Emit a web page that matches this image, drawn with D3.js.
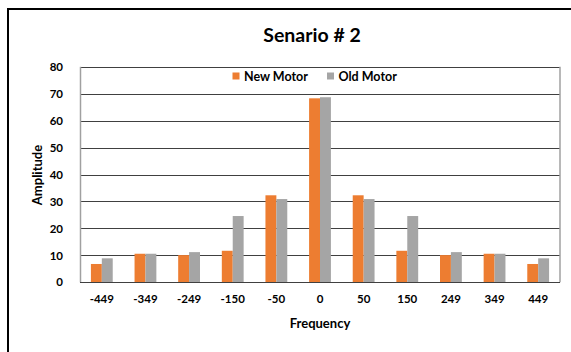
<!DOCTYPE html>
<html><head><meta charset="utf-8">
<script src="https://cdn.jsdelivr.net/npm/d3@7"></script>
<style>body{margin:0;background:#fff}svg{display:block}text{font-family:Lato,"Open Sans",sans-serif;font-weight:bold;fill:#000}</style>
</head><body>
<script>
const categories = ["-449","-349","-249","-150","-50","0","50","150","249","349","449"];
const newMotor = [6.8,10.6,10.1,11.7,32.3,68.3,32.3,11.7,10.1,10.6,6.8];
const oldMotor = [8.9,10.6,11.2,24.6,30.9,68.7,30.9,24.6,11.2,10.6,8.9];
const seriesNames = ["New Motor","Old Motor"];
const yTicks = [0,10,20,30,40,50,60,70,80];

const W=571,H=352;
const svg=d3.select("body").append("svg").attr("width",W).attr("height",H);
svg.append("rect").attr("x",8).attr("y",9).attr("width",700).attr("height",500)
  .attr("fill","none").attr("stroke","#000").attr("stroke-width",2);

const L=80,R=560,T=66.8,B=282.3;
const x=d3.scaleBand().domain(categories).range([L,R]).paddingInner(0.5).paddingOuter(0.25);
const y=d3.scaleLinear().domain([0,80]).range([B,T]);
const colors=["#ED7D31","#A5A5A5"];
const xs=d3.scaleBand().domain([0,1]).range([0,x.bandwidth()]);

// gridlines
svg.append("g").selectAll("line").data(yTicks.filter(d=>d>0)).join("line")
  .attr("x1",L).attr("x2",R).attr("y1",d=>Math.round(y(d))+0.5).attr("y2",d=>Math.round(y(d))+0.5)
  .attr("stroke","#404040").attr("stroke-width",1);
// left & right borders
svg.append("line").attr("x1",L+0.5).attr("x2",L+0.5).attr("y1",y(80)).attr("y2",B).attr("stroke","#a0a0a0").attr("stroke-width",1.5);
svg.append("line").attr("x1",R).attr("x2",R).attr("y1",y(80)).attr("y2",B).attr("stroke","#a0a0a0").attr("stroke-width",1.5);

// bars
const series=[newMotor,oldMotor];
series.forEach((vals,si)=>{
  svg.append("g").selectAll("rect").data(vals).join("rect")
    .attr("x",(d,i)=>x(categories[i])+xs(si))
    .attr("width",xs.bandwidth())
    .attr("y",d=>y(d)).attr("height",d=>B-y(d))
    .attr("fill",colors[si]);
});

// x axis line
svg.append("line").attr("x1",L).attr("x2",R).attr("y1",Math.round(B)+0.5).attr("y2",Math.round(B)+0.5).attr("stroke","#404040");

// y ticks
const ya=svg.append("g").attr("transform",`translate(${L},0)`).call(d3.axisLeft(y).tickValues(yTicks).tickSize(0).tickPadding(17));
ya.select(".domain").remove();
ya.selectAll("text").attr("font-size",11.5).style("font-family","Lato,sans-serif").style("font-weight","bold");

// x ticks
const xa=svg.append("g").attr("transform",`translate(0,${B})`).call(d3.axisBottom(x).tickSize(0).tickPadding(13));
xa.select(".domain").remove();
xa.selectAll("text").attr("font-size",11.5).style("font-family","Lato,sans-serif").style("font-weight","bold");

// titles
svg.append("text").attr("x",312).attr("y",42).attr("text-anchor","middle").attr("font-size",19.5).text("Senario # 2");
svg.append("text").attr("x",(L+R)/2).attr("y",328).attr("text-anchor","middle").attr("font-size",13).text("Frequency");
svg.append("text").attr("transform","translate(42,175) rotate(-90)").attr("text-anchor","middle").attr("font-size",13).text("Amplitude");

// legend
const legX=[232.5,327];
seriesNames.forEach((n,i)=>{
  svg.append("rect").attr("x",legX[i]).attr("y",72.5).attr("width",7).attr("height",7).attr("fill",colors[i]);
  svg.append("text").attr("x",legX[i]+11.5).attr("y",80.5).attr("font-size",12.5).text(n);
});
</script>
</body></html>
